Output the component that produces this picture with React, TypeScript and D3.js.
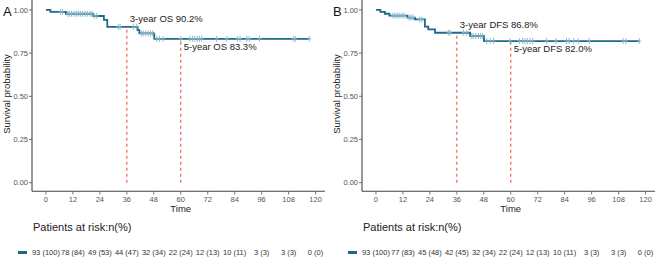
import * as d3 from "d3";

// follow-up months shown on the x axis
const timeTicks = [0, 12, 24, 36, 48, 60, 72, 84, 96, 108, 120];
const probTicks = [0, 0.25, 0.5, 0.75, 1];

// overall survival: [month, survival] at each drop
const osSteps: [number, number][] = [
  [0, 1], [2, 0.989], [8.9, 0.978], [21, 0.965], [25.8, 0.942], [27.3, 0.902],
  [40.8, 0.883], [41.6, 0.864], [48.2, 0.833],
];
const osEnd = 117.2;
const osCensor = [
  6.5, 7.4, 9.7, 10.4, 11.4, 12.5, 13.5, 14.4, 15.3, 16.3, 17.4, 18.4, 19.6, 20.5,
  21.5, 22.6, 32.2, 33, 38.9, 40.4, 42.6, 43.3, 44.4, 45.6, 46.6, 47.5, 49.3, 50.5,
  52.2, 60, 64.1, 65.3, 66.3, 67.4, 68.3, 69.3, 76, 80.5, 85.2, 86.4, 89.4, 90.5,
  95, 110.1, 111, 117.2,
];
const osAtRisk = ["93 (100)", "78 (84)", "49 (53)", "44 (47)", "32 (34)", "22 (24)", "12 (13)", "10 (11)", "3 (3)", "3 (3)", "0 (0)"];

// disease-free survival
const dfsSteps: [number, number][] = [
  [0, 1], [2, 0.989], [4, 0.978], [6, 0.967], [14, 0.956], [17.4, 0.945],
  [21.8, 0.903], [23.3, 0.888], [26.3, 0.868], [41.9, 0.849], [48.1, 0.82],
];
const dfsEnd = 117.2;
const dfsCensor = [
  7.6, 8.5, 9.5, 10.6, 11.6, 12.6, 14.8, 15.6, 16.5, 19.5, 20.5, 32.2, 33, 38.9, 40.4,
  42.6, 43.3, 44.4, 45.6, 46.6, 47.5, 49.3, 50.8, 52.3, 59.7, 63.8, 65.3, 66.3, 67.4,
  68.6, 69.8, 76, 80.1, 84.8, 86, 88, 90, 94.9, 110, 111.2, 117.2,
];
const dfsAtRisk = ["93 (100)", "77 (83)", "45 (48)", "42 (45)", "32 (34)", "22 (24)", "12 (13)", "10 (11)", "3 (3)", "3 (3)", "0 (0)"];

// landmark estimates drawn as dashed guides
const osMarks = [{ t: 36, s: 0.902, label: "3-year OS 90.2%" }, { t: 60, s: 0.833, label: "5-year OS 83.3%" }];
const dfsMarks = [{ t: 36, s: 0.868, label: "3-year DFS 86.8%" }, { t: 60, s: 0.82, label: "5-year DFS 82.0%" }];

const lineColor = "#1d6987";
const censorColor = "#7fb2c7";
const guideColor = "#f4615c";
const font = "Liberation Sans, Arial, sans-serif";

function survAt(steps: [number, number][], t: number) {
  let s = steps[0][1];
  for (const [st, sv] of steps) if (st <= t) s = sv;
  return s;
}

function KMPanel({ dx, tag, steps, end, censor, marks, atRisk }: {
  dx: number; tag: string; steps: [number, number][]; end: number; censor: number[];
  marks: { t: number; s: number; label: string }[]; atRisk: string[];
}) {
  const x = d3.scaleLinear().domain([-6.2, 124.2]).range([32 + dx, 325 + dx]);
  const y = d3.scaleLinear().domain([-0.05, 1.05]).range([191.3, 1.3]);
  const pts: [number, number][] = [...steps, [end, steps[steps.length - 1][1]]];
  const line = d3.line<[number, number]>().x(d => x(d[0])).y(d => y(d[1])).curve(d3.curveStepAfter);

  return (
    <g fontFamily={font}>
      <text x={3 + dx} y={16} fontSize={13} fill="#111">{tag}</text>
      {/* axes */}
      <line x1={x.range()[0]} x2={x.range()[0]} y1={0} y2={191.3} stroke="#444" strokeWidth={1.1} />
      <line x1={x.range()[0]} x2={x.range()[1]} y1={191.3} y2={191.3} stroke="#444" strokeWidth={1.1} />
      {probTicks.map(p => (
        <g key={p}>
          <line x1={x.range()[0] - 3} x2={x.range()[0]} y1={y(p)} y2={y(p)} stroke="#555" strokeWidth={0.8} />
          <text x={x.range()[0] - 4} y={y(p)} dy="0.35em" textAnchor="end" fontSize={7.5} fill="#555">{p.toFixed(2)}</text>
        </g>
      ))}
      {timeTicks.map(t => (
        <g key={t}>
          <line x1={x(t)} x2={x(t)} y1={191.3} y2={194.5} stroke="#555" strokeWidth={0.8} />
          <text x={x(t)} y={201.5} textAnchor="middle" fontSize={7.5} fill="#555">{t}</text>
        </g>
      ))}
      <text transform={`translate(${10 + dx},94) rotate(-90)`} textAnchor="middle" fontSize={9.5} fill="#222">Survival probability</text>
      <text x={x(60)} y={212} textAnchor="middle" fontSize={9.5} fill="#222">Time</text>

      {/* landmark guides */}
      {marks.map((m, i) => (
        <g key={m.t}>
          <line x1={x(m.t)} x2={x(m.t)} y1={y(0)} y2={y(m.s)} stroke={guideColor} strokeWidth={1.2} strokeDasharray="3,3" />
          <text x={x(m.t) + 3} y={y(i === 0 ? m.s + 0.045 : m.s - 0.045)} dy="0.35em" fontSize={9.5} fill="#222">{m.label}</text>
        </g>
      ))}

      {/* survival curve with censor ticks */}
      <path d={line(pts) ?? ""} fill="none" stroke={lineColor} strokeWidth={1.8} />
      {censor.map((t, i) => {
        const cx = x(t), cy = y(survAt(steps, t));
        return (
          <path key={i} d={`M${cx - 2},${cy}H${cx + 2}M${cx},${cy - 3}V${cy + 3}`} stroke={censorColor} strokeWidth={0.9} />
        );
      })}

      {/* risk table */}
      <text x={33 + dx} y={231} fontSize={11} fill="#222">Patients at risk:n(%)</text>
      <rect x={18 + dx} y={251} width={9} height={3} fill={lineColor} />
      {atRisk.map((v, i) => (
        <text key={i} x={x(timeTicks[i])} y={252.5} dy="0.35em" textAnchor="middle" fontSize={7.5} fill="#333">{v}</text>
      ))}
    </g>
  );
}

export default function App() {
  return (
    <svg width={661} height={259} style={{ position: "absolute", left: 0, top: 0, background: "#fff" }}>
      <KMPanel dx={0} tag="A" steps={osSteps} end={osEnd} censor={osCensor} marks={osMarks} atRisk={osAtRisk} />
      <KMPanel dx={330} tag="B" steps={dfsSteps} end={dfsEnd} censor={dfsCensor} marks={dfsMarks} atRisk={dfsAtRisk} />
    </svg>
  );
}
